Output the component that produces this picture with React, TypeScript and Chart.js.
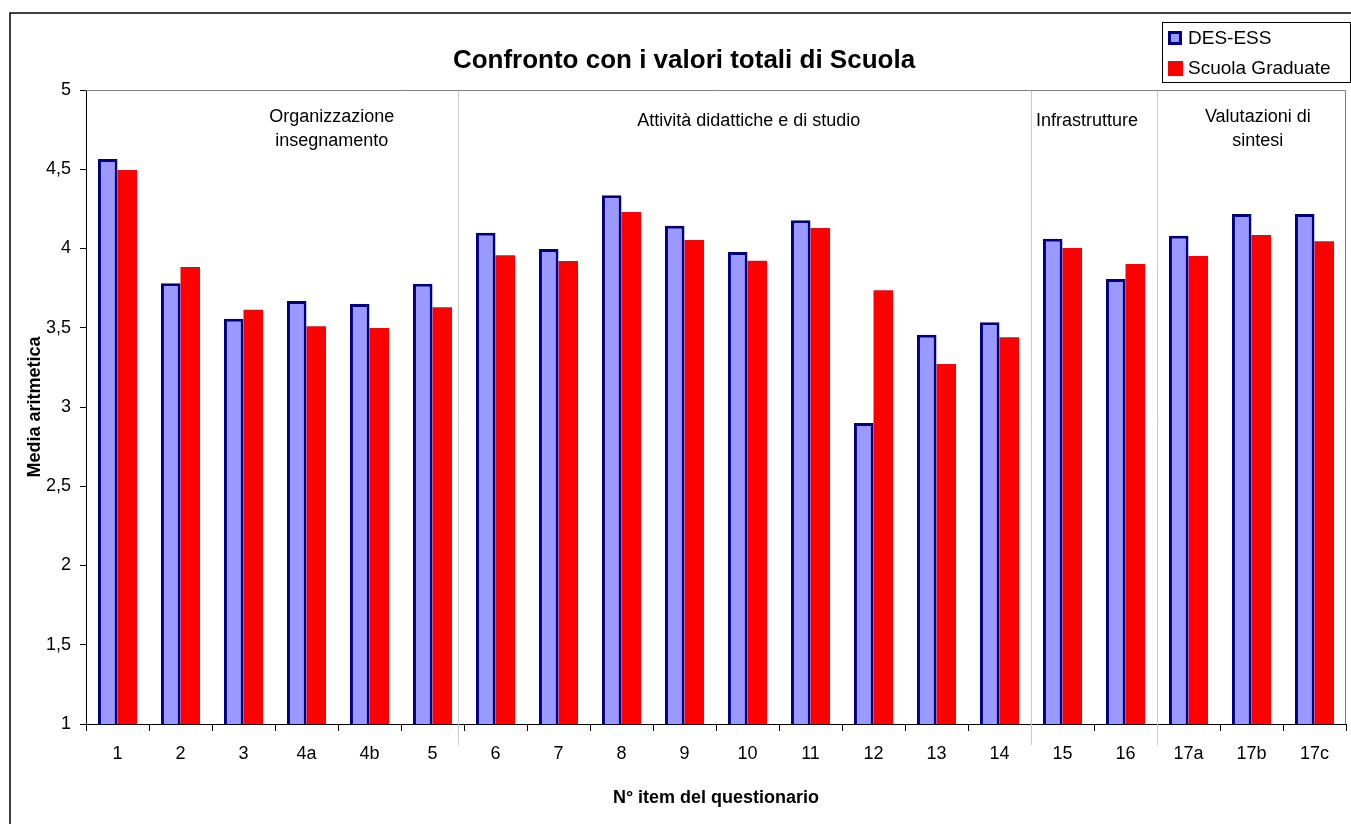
import React, { useEffect, useRef } from "react";
import { Chart, registerables } from "chart.js";

Chart.register(...registerables);

const categories = ["1", "2", "3", "4a", "4b", "5", "6", "7", "8", "9", "10", "11", "12", "13", "14", "15", "16", "17a", "17b", "17c"];
const desEss = [4.565, 3.78, 3.557, 3.669, 3.65, 3.778, 4.1, 3.997, 4.336, 4.144, 3.978, 4.178, 2.899, 3.456, 3.534, 4.062, 3.808, 4.081, 4.218, 4.218];
const scuolaGraduate = [4.495, 3.883, 3.614, 3.509, 3.498, 3.629, 3.957, 3.921, 4.23, 4.054, 3.923, 4.129, 3.736, 3.271, 3.44, 4.003, 3.902, 3.953, 4.085, 4.046];
const seriesNames = ["DES-ESS", "Scuola Graduate"];
const sectionLabels = [["Organizzazione", "insegnamento"], ["Attività didattiche e di studio"], ["Infrastrutture"], ["Valutazioni di", "sintesi"]];
const sectionCenters = [3.4, 10.02, 15.39, 18.1];
const separatorPositions = [5.4, 14.5, 16.5];
const chartTitle = "Confronto con i valori totali di Scuola";
const xTitle = "N° item del questionario";
const yTitle = "Media aritmetica";

const FONT = "'Liberation Sans', Arial, sans-serif";

const decorPlugin = {
  id: "decor",
  beforeDraw(chart: any) {
    const ctx = chart.ctx;
    ctx.save();
    ctx.fillStyle = "#fff";
    ctx.fillRect(0, 0, chart.width, chart.height);
    ctx.strokeStyle = "#000";
    ctx.lineWidth = 1.5;
    ctx.beginPath();
    ctx.moveTo(10, chart.height + 5);
    ctx.lineTo(10, 13);
    ctx.lineTo(chart.width + 5, 13);
    ctx.stroke();
    ctx.restore();
  },
  beforeDatasetsDraw(chart: any) {
    const ctx = chart.ctx;
    const { chartArea } = chart;
    const x = chart.scales.x;
    ctx.save();
    ctx.strokeStyle = "#c8c8c8";
    ctx.lineWidth = 1;
    separatorPositions.forEach((p) => {
      const px = Math.round(x.getPixelForValue(p)) + 0.5;
      ctx.beginPath();
      ctx.moveTo(px, chartArea.top);
      ctx.lineTo(px, chartArea.bottom + 21);
      ctx.stroke();
    });
    ctx.strokeStyle = "#808080";
    ctx.beginPath();
    ctx.moveTo(chartArea.left, chartArea.top + 0.5);
    ctx.lineTo(chartArea.right - 0.5, chartArea.top + 0.5);
    ctx.lineTo(chartArea.right - 0.5, chartArea.bottom);
    ctx.stroke();
    ctx.restore();
  },
  afterDraw(chart: any) {
    const ctx = chart.ctx;
    const { chartArea } = chart;
    const x = chart.scales.x;
    ctx.save();
    ctx.fillStyle = "#000";
    ctx.textAlign = "center";
    ctx.textBaseline = "middle";
    // title
    ctx.font = `bold 26px ${FONT}`;
    ctx.fillText(chartTitle, 684, 61);
    // section labels
    ctx.font = `18px ${FONT}`;
    sectionLabels.forEach((lines, i) => {
      const cx = x.getPixelForValue(sectionCenters[i]);
      lines.forEach((l, j) => {
        const y = lines.length > 1 ? 117 + j * 24 : 121;
        ctx.fillText(l, cx, y);
      });
    });
    // axis titles
    ctx.font = `bold 18px ${FONT}`;
    ctx.fillText(xTitle, (chartArea.left + chartArea.right) / 2, 798);
    ctx.save();
    ctx.translate(35, (chartArea.top + chartArea.bottom) / 2);
    ctx.rotate(-Math.PI / 2);
    ctx.fillText(yTitle, 0, 0);
    ctx.restore();
    // legend
    ctx.strokeStyle = "#000";
    ctx.lineWidth = 1;
    ctx.strokeRect(1162.5, 22.5, 188, 60);
    ctx.fillStyle = "#9999ff";
    ctx.fillRect(1168, 31, 14, 14);
    ctx.strokeStyle = "#000080";
    ctx.lineWidth = 3;
    ctx.strokeRect(1169.5, 32.5, 11, 11);
    ctx.fillStyle = "#ff0000";
    ctx.fillRect(1168, 61, 15, 15);
    ctx.fillStyle = "#000";
    ctx.textAlign = "left";
    ctx.font = `19px ${FONT}`;
    ctx.fillText(seriesNames[0], 1188, 39);
    ctx.fillText(seriesNames[1], 1188, 69);
    ctx.restore();
  },
};

export default function App() {
  const ref = useRef<HTMLCanvasElement | null>(null);
  useEffect(() => {
    if (!ref.current) return;
    const chart = new Chart(ref.current, {
      type: "bar",
      data: {
        labels: categories,
        datasets: [
          {
            label: seriesNames[0],
            data: desEss,
            backgroundColor: "#9999ff",
            borderColor: "#000080",
            borderWidth: 3,
            borderSkipped: false,
            categoryPercentage: 0.62,
            barPercentage: 1,
          },
          {
            label: seriesNames[1],
            data: scuolaGraduate,
            backgroundColor: "#ff0000",
            borderWidth: 0,
            categoryPercentage: 0.62,
            barPercentage: 1,
          },
        ],
      },
      options: {
        responsive: false,
        animation: false,
        devicePixelRatio: 1,
        layout: { padding: { top: 90, right: 5, left: 0, bottom: 0 } },
        plugins: {
          legend: { display: false },
          title: { display: false },
          tooltip: { enabled: false },
        },
        scales: {
          x: {
            offset: true,
            grid: { offset: true, drawOnChartArea: false, drawTicks: true, tickLength: 7, color: "#000", lineWidth: 1 },
            border: { display: true, color: "#000", width: 1 },
            ticks: { color: "#000", font: { family: FONT, size: 18 }, padding: 12, maxRotation: 0, autoSkip: false },
            afterFit: (s: any) => { s.height = 100; },
          },
          y: {
            min: 1,
            max: 5,
            grid: { drawOnChartArea: false, drawTicks: true, tickLength: 6, color: "#000" },
            border: { display: true, color: "#000", width: 1 },
            ticks: {
              stepSize: 0.5,
              color: "#000",
              padding: 9,
              font: { family: FONT, size: 18 },
              callback: (v: any) => String(v).replace(".", ","),
            },
            afterFit: (s: any) => { s.width = 86; },
          },
        },
      },
      plugins: [decorPlugin],
    });
    return () => chart.destroy();
  }, []);
  return (
    <div style={{ position: "absolute", left: 0, top: 0, width: 1351, height: 824, background: "#fff" }}>
      <canvas ref={ref} width={1351} height={824} style={{ display: "block" }} />
    </div>
  );
}
